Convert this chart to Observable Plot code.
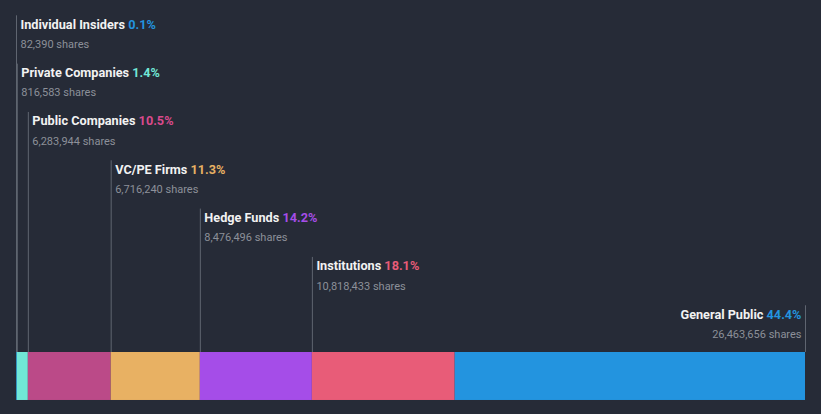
<!DOCTYPE html>
<html>
<head>
<meta charset="utf-8">
<script src="https://cdn.jsdelivr.net/npm/d3@7"></script>
<script src="https://cdn.jsdelivr.net/npm/@observablehq/plot@0.6"></script>
<style>
  html, body { margin: 0; padding: 0; background: #262b37; }
  #chart { width: 821px; height: 414px; overflow: hidden; }
</style>
</head>
<body>
<div id="chart"></div>
<script>
const categories = ["Individual Insiders", "Private Companies", "Public Companies", "VC/PE Firms", "Hedge Funds", "Institutions", "General Public"];
const percents = [0.1, 1.4, 10.5, 11.3, 14.2, 18.1, 44.4];
const shares = [82390, 816583, 6283944, 6716240, 8476496, 10818433, 26463656];
const barColors = ["#2394df", "#71e7d6", "#bb4a88", "#e8b163", "#a54de8", "#e85c78", "#2394df"];
const pctColors = ["#2394df", "#71e7d6", "#d94a8c", "#e8b163", "#a54de8", "#e85c78", "#2394df"];

const ends = Array.from(d3.cumsum(percents));
const data = categories.map((name, i) => ({
  name, pct: percents[i], shares: shares[i],
  start: ends[i] - percents[i], end: ends[i],
  row: i, color: barColors[i], pctColor: pctColors[i],
  last: i === categories.length - 1
}));
const startData = data.filter(d => !d.last);
const endData = data.filter(d => d.last);

const BAR_TOP = 6.787, BAR_BOTTOM = 7.78;
const fmt = d3.format(",");

const plot = Plot.plot({
  width: 821,
  height: 414,
  marginLeft: 16,
  marginRight: 16,
  marginTop: 0,
  marginBottom: 0,
  style: { background: "#262b37", fontFamily: "Roboto, sans-serif", overflow: "visible" },
  x: { domain: [0, 100], axis: null },
  y: { domain: [-0.4966, 8.07], range: [0, 414], axis: null },
  marks: [
    Plot.ruleX(data, {
      x: d => d.last ? d.end : d.start,
      y1: d => d.row - 0.18,
      y2: () => BAR_TOP,
      stroke: "#5f6570",
      strokeWidth: 1
    }),
    Plot.rect(data, {
      x1: "start", x2: "end",
      y1: () => BAR_TOP, y2: () => BAR_BOTTOM,
      fill: "color"
    }),
    Plot.text(startData, {
      x: "start",
      y: "row",
      text: "name",
      textAnchor: "start",
      lineAnchor: "middle",
      fill: "#f2f2f2",
      fontWeight: "bold",
      fontSize: 12.7,
      dx: 4
    }),
    Plot.text(startData, {
      x: "start",
      y: d => d.row + 0.414,
      text: d => fmt(d.shares) + " shares",
      textAnchor: "start",
      lineAnchor: "middle",
      fill: "#8c9099",
      fontSize: 11,
      dx: 4
    }),
    Plot.text(endData, {
      x: "end",
      y: "row",
      text: "name",
      textAnchor: "end",
      lineAnchor: "middle",
      fill: "#f2f2f2",
      fontWeight: "bold",
      fontSize: 12.7,
      dx: -4
    }),
    Plot.text(endData, {
      x: "end",
      y: d => d.row + 0.414,
      text: d => fmt(d.shares) + " shares",
      textAnchor: "end",
      lineAnchor: "middle",
      fill: "#8c9099",
      fontSize: 11,
      dx: -4
    })
  ]
});

// add coloured percent tspans to the title texts
const textGroups = plot.querySelectorAll('g[aria-label="text"]');
function addPct(group, rows) {
  if (!group) return;
  group.querySelectorAll("text").forEach((t, i) => {
    const d = rows[i];
    if (!d) return;
    const ts = document.createElementNS("http://www.w3.org/2000/svg", "tspan");
    ts.setAttribute("fill", d.pctColor);
    ts.textContent = " " + d.pct.toFixed(1) + "%";
    t.appendChild(ts);
  });
}
addPct(textGroups[0], startData);
addPct(textGroups[2], endData);

document.getElementById("chart").appendChild(plot);
</script>
</body>
</html>
